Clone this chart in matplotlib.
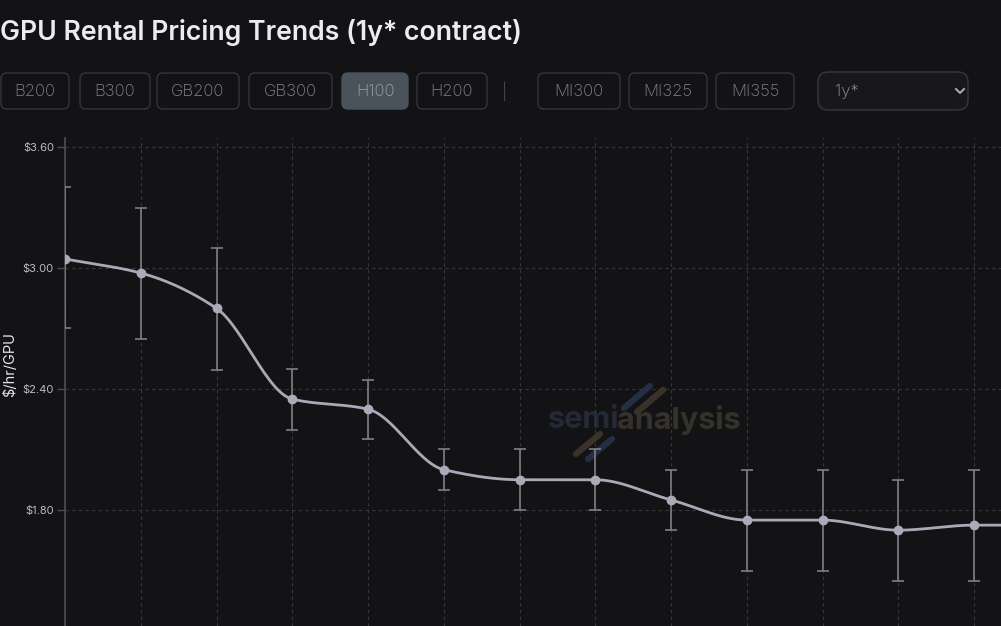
"""
GPU rental pricing trend (H100, 1y* contract) with min/max range bars.
"""
import numpy as np
import matplotlib
matplotlib.use("Agg")
import matplotlib.pyplot as plt
from matplotlib.patches import FancyBboxPatch

# ---- data ----
price = [3.045, 2.975, 2.80, 2.35, 2.30, 2.00, 1.95, 1.95, 1.85, 1.75, 1.75, 1.70, 1.725, 1.725]
price_high = [3.40, 3.30, 3.10, 2.50, 2.445, 2.10, 2.10, 2.10, 2.00, 2.00, 2.00, 1.95, 2.00, 2.00]
price_low = [2.70, 2.65, 2.495, 2.195, 2.15, 1.90, 1.80, 1.80, 1.70, 1.50, 1.50, 1.45, 1.45, 1.45]
y_ticks = [1.80, 2.40, 3.00, 3.60]

gpu_buttons = ["B200", "B300", "GB200", "GB300", "H100", "H200", "MI300", "MI325", "MI355"]
active_gpu = "H100"
contract = "1y*"

BG = "#131316"
W, H = 1001, 626


def monotone_curve(x, y, n=30):
    # monotone cubic (Fritsch-Carlson) like d3.curveMonotoneX
    x = np.asarray(x, float)
    y = np.asarray(y, float)
    h = np.diff(x)
    d = np.diff(y) / h
    m = np.zeros_like(y)
    m[0], m[-1] = d[0], d[-1]
    for i in range(1, len(y) - 1):
        if d[i - 1] * d[i] <= 0:
            m[i] = 0.0
        else:
            m[i] = (h[i - 1] + h[i]) * 3 / ((2 * h[i] + h[i - 1]) / d[i - 1] + (h[i] + 2 * h[i - 1]) / d[i])
    xs, ys = [], []
    for i in range(len(h)):
        t = np.linspace(0, 1, n, endpoint=(i == len(h) - 1))
        h00 = 2 * t**3 - 3 * t**2 + 1
        h10 = t**3 - 2 * t**2 + t
        h01 = -2 * t**3 + 3 * t**2
        h11 = t**3 - t**2
        xs.append(x[i] + t * h[i])
        ys.append(h00 * y[i] + h10 * h[i] * m[i] + h01 * y[i + 1] + h11 * h[i] * m[i + 1])
    return np.concatenate(xs), np.concatenate(ys)


plt.rcParams["font.family"] = ["Inter", "DejaVu Sans"]
fig = plt.figure(figsize=(W / 100, H / 100), dpi=100, facecolor=BG)

# overlay in pixel coords for the header widgets / watermark
ov = fig.add_axes([0, 0, 1, 1], zorder=0)
ov.set_xlim(0, W)
ov.set_ylim(H, 0)
ov.axis("off")

ov.text(0, 32, "GPU Rental Pricing Trends (1y* contract)", fontsize=19.2,
        color="#ececee", ha="left", va="center", fontweight="semibold")

btn_x = [1, 80, 157, 249, 342, 417, 538, 629, 716]
btn_w = [68, 70, 82, 83, 66, 70, 82, 78, 78]
for label, x0, w in zip(gpu_buttons, btn_x, btn_w):
    active = label == active_gpu
    box = FancyBboxPatch((x0, 73), w, 36, boxstyle="round,pad=0,rounding_size=6",
                         facecolor="#4a525c" if active else BG,
                         edgecolor="#4a525c" if active else "#34343a", lw=1.0)
    ov.add_patch(box)
    ov.text(x0 + w / 2, 91.5, label, fontsize=12, color="#9ea3aa" if active else "#85858a",
            ha="center", va="center", fontweight="light")
ov.text(505, 91.5, "|", fontsize=11, color="#444448", ha="center", va="center")

dd = FancyBboxPatch((818, 72), 150, 38, boxstyle="round,pad=0,rounding_size=10",
                    facecolor="#18181b", edgecolor="#38383d", lw=1.0)
ov.add_patch(dd)
ov.text(835, 91.5, contract, fontsize=12, color="#9a9a9f", ha="left", va="center",
        fontweight="light")
ov.plot([956, 960, 964], [89, 93, 89], color="#b0b0b4", lw=1.4)

# watermark
ov.text(619, 420, "semi", fontsize=22, fontweight="bold", color="#232a36",
        ha="right", va="center", zorder=1)
ov.text(617, 420, "analysis", fontsize=22, fontweight="bold", color="#35322b",
        ha="left", va="center", zorder=1)
ov.plot([624, 650], [408, 386], color="#262e44", lw=4.5, solid_capstyle="round", zorder=1)
ov.plot([637, 663], [412, 390], color="#3a3229", lw=4.5, solid_capstyle="round", zorder=1)
ov.plot([576, 600], [454, 434], color="#3a3229", lw=4.5, solid_capstyle="round", zorder=1)
ov.plot([588, 612], [459, 439], color="#262e44", lw=4.5, solid_capstyle="round", zorder=1)

# main plot: left spine at x=65px, top at y=138px, runs off the bottom/right edges
top_px = 138
ax = fig.add_axes([65 / W, 0, (W - 65) / W, (H - top_px) / H], zorder=2)
ax.set_facecolor("none")

x = np.arange(len(price))
ax.set_xticks(x)
ax.set_xticklabels([])
ax.tick_params(axis="x", length=0)
ax.set_yticks(y_ticks)
ax.set_yticklabels([f"${v:.2f}" for v in y_ticks])
ax.tick_params(axis="y", length=6, width=1, color="#4a4a4e", labelcolor="#bdbdc0",
               labelsize=8, pad=2)
ax.grid(True, color="#38383c", lw=0.8, linestyle=(0, (3, 3)))
for side in ["top", "right", "bottom"]:
    ax.spines[side].set_visible(False)
ax.spines["left"].set_color("#4a4a4e")
ax.spines["left"].set_linewidth(1.3)

err = [np.subtract(price, price_low), np.subtract(price_high, price)]
ax.errorbar(x, price, yerr=err, fmt="none", ecolor="#7e7f86", elinewidth=1.2,
            capsize=4.5, capthick=1.2, zorder=3)
cx, cy = monotone_curve(x, price)
ax.plot(cx, cy, color="#a8aab6", lw=2, zorder=4)
ax.plot(x, price, "o", color="#a9acb8", ms=6, zorder=5)

# limits last so the tick setters don't widen them
px_per_dollar = 121 / 0.6
ax.set_ylim(3.60 - (H - 147) / px_per_dollar, 3.60 + (147 - top_px) / px_per_dollar)
ax.set_xlim(0, (W - 65) / 75.75)

fig.text(10 / W, 1 - 365 / H, "$/hr/GPU", rotation=90, fontsize=10.5, color="#e6e6e8",
         ha="center", va="center")

fig.savefig("out.png", dpi=100, facecolor=BG)
